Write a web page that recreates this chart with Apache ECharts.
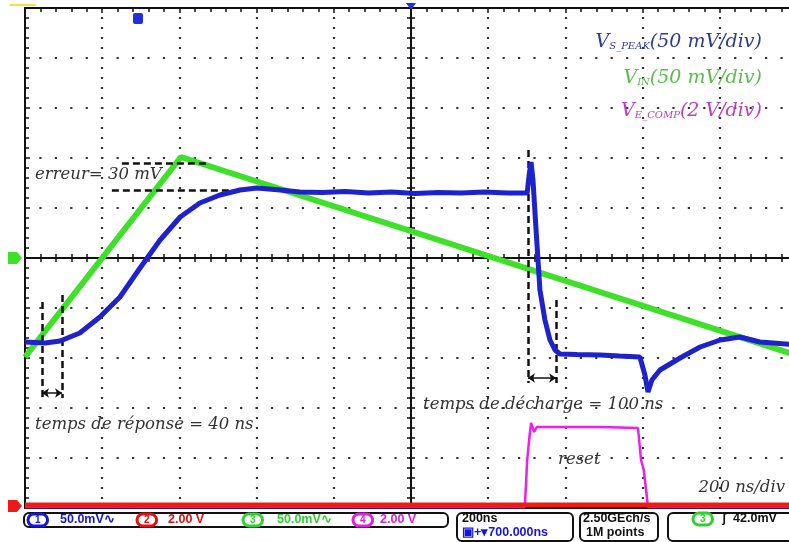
<!DOCTYPE html>
<html>
<head>
<meta charset="utf-8">
<script src="https://cdn.jsdelivr.net/npm/echarts@6/dist/echarts.min.js"></script>
<style>
html,body{margin:0;padding:0;background:#fff}
#scope{width:789px;height:542px}
</style>
</head>
<body>
<div id="scope"></div>
<script>
// temps en ns (0 = centre de l'écran, 200 ns/div), tensions en divisions
var vinT = [-1000, -596, 1000];
var vinDiv = [-1.98, 2.02, -1.95];

var vsT = [-1000, -948, -909, -858, -806, -754, -702, -650, -598, -547,
           -495, -443, -399, -339, -288, -230, -170, -110, -50, 10,
           70, 130, 190, 250, 301, 306, 311, 316, 324, 334,
           347, 360, 373, 386, 430, 490, 540, 593, 606, 614,
           624, 645, 697, 749, 801, 852, 904, 1000];
var vsDiv = [-1.68, -1.70, -1.66, -1.50, -1.18, -0.78, -0.20, 0.36, 0.82, 1.10,
             1.26, 1.36, 1.40, 1.36, 1.32, 1.31, 1.33, 1.30, 1.32, 1.29,
             1.31, 1.30, 1.32, 1.30, 1.30, 1.66, 1.92, 1.56, 0.56, -0.64,
             -1.24, -1.64, -1.84, -1.92, -1.93, -1.94, -1.96, -1.98, -2.34, -2.68,
             -2.44, -2.24, -2.00, -1.78, -1.64, -1.58, -1.68, -1.74];

var ecompT = [-1000, 295, 301, 306, 311, 319, 326, 490, 588, 596, 603, 609, 614, 1000];
var ecompDiv = [-4.98, -4.98, -4.04, -3.64, -3.30, -3.48, -3.38, -3.38, -3.40, -4.04, -4.24, -4.64, -4.98, -4.98];

var ch2T = [-1000, 1000];
var ch2Div = [-4.94, -4.94];

// annotations (pointillés et flèches), en [ns, div]
var erreurLines = [[[-749, 1.90], [-526, 1.90]], [[-775, 1.36], [-456, 1.36]]];
var reponseLines = [[[-956, -0.88], [-956, -2.8]], [[-904, -0.74], [-904, -2.8]]];
var dechargeLines = [[[303, 2.16], [303, -2.5]], [[376, -0.84], [376, -2.5]]];
var arrowLines = [[[-956, -2.7], [-904, -2.7]], [[303, -2.4], [376, -2.4]]];

var BLUE = '#1e22cc', GREEN = '#3fe02a', MAG = '#f01cf0', RED = '#ee1a1a';

function pairs(xs, ys) {
    return xs.map(function (x, i) { return [x, ys[i]]; });
}
function segs(list) {
    return list.map(function (p) { return [{coord: p[0]}, {coord: p[1]}]; });
}

var tickStyle = {color: '#111', width: 1.5};

function borderX(pos, split) {
    return {
        gridIndex: 0, type: 'value', position: pos, min: -1000, max: 1000, interval: 200,
        axisLine: {show: true, onZero: false, lineStyle: {color: '#111', width: 2}},
        axisTick: {show: true, inside: true, length: 5, lineStyle: tickStyle},
        minorTick: {show: true, splitNumber: 5, length: 4, lineStyle: tickStyle},
        axisLabel: {show: false},
        splitLine: {show: split, showMinLine: false, showMaxLine: false,
            lineStyle: {color: '#333', width: 2.2, type: [2.2, 7.8], dashOffset: 1.1}}
    };
}
function centerX(pos) {
    return {
        gridIndex: 1, type: 'value', position: pos, min: -1000, max: 1000, interval: 200,
        axisLine: {show: true, onZero: true, lineStyle: {color: '#111', width: 2}},
        axisTick: {show: true, length: 4, lineStyle: tickStyle},
        minorTick: {show: true, splitNumber: 5, length: 4, lineStyle: tickStyle},
        axisLabel: {show: false}, splitLine: {show: false}
    };
}
function centerY(pos) {
    return {
        gridIndex: 1, type: 'value', position: pos, min: -5, max: 5, interval: 1,
        axisLine: {show: true, onZero: true, lineStyle: {color: '#111', width: 2}},
        axisTick: {show: true, length: 4, lineStyle: tickStyle},
        minorTick: {show: true, splitNumber: 5, length: 4, lineStyle: tickStyle},
        axisLabel: {show: false}, splitLine: {show: false}
    };
}

function pill(x, y, num, col) {
    return {type: 'text', z: 100, style: {text: num, x: x, y: y, font: 'bold 10px "Liberation Sans"',
        fill: col, borderColor: col, borderWidth: 3, borderRadius: 7, padding: [1, 7],
        verticalAlign: 'middle'}};
}
function stat(x, y, txt, col) {
    return {type: 'text', z: 100, style: {text: txt, x: x, y: y, font: 'bold 12.5px "Liberation Sans"',
        fill: col, verticalAlign: 'middle'}};
}
function note(x, y, txt, align) {
    return {type: 'text', z: 100, style: {text: txt, x: x, y: y, font: 'italic 16.5px "DejaVu Serif"',
        fill: '#333', verticalAlign: 'middle', align: align || 'left'}};
}
function legendText(y, main, sub, unit, col) {
    var base = {fontFamily: 'DejaVu Serif', fontStyle: 'italic', fill: col, verticalAlign: 'bottom'};
    return {type: 'text', z: 100, style: {
        text: '{v|' + main + '}{s|' + sub + '}{v|' + unit + '}',
        x: 762, y: y, align: 'right', verticalAlign: 'middle',
        rich: {
            v: Object.assign({fontSize: 19, lineHeight: 23}, base),
            s: Object.assign({fontSize: 10, lineHeight: 8}, base)
        }}};
}
function box(x, y, w, h) {
    return {type: 'rect', z: 90, shape: {x: x, y: y, width: w, height: h, r: 5},
        style: {fill: 'none', stroke: '#111', lineWidth: 2}};
}

var chart = echarts.init(document.getElementById('scope'));

// la grille déborde de 8 px à droite (écran recadré)
var gridBox = {left: 25, top: 8, width: 772, height: 500, outerBoundsMode: 'none', containLabel: false};

var option = {
    animation: false,
    backgroundColor: '#fff',
    grid: [Object.assign({}, gridBox), Object.assign({}, gridBox)],
    xAxis: [borderX('bottom', true), borderX('top', false), centerX('bottom'), centerX('top')],
    yAxis: [
        {
            gridIndex: 0, type: 'value', position: 'left', min: -5, max: 5, interval: 1,
            axisLine: {show: true, onZero: false, lineStyle: {color: '#111', width: 2}},
            axisTick: {show: true, inside: true, length: 5, lineStyle: tickStyle},
            minorTick: {show: true, splitNumber: 5, length: 4, lineStyle: tickStyle},
            axisLabel: {show: false},
            splitLine: {show: true, showMinLine: false, showMaxLine: false,
                lineStyle: {color: '#333', width: 2.2, type: [2.2, 13.24], dashOffset: 1.1}}
        },
        centerY('left'), centerY('right')
    ],
    series: [
        {
            name: 'V_IN', type: 'line', xAxisIndex: 0, yAxisIndex: 0, z: 3,
            data: pairs(vinT, vinDiv), showSymbol: false, silent: true,
            lineStyle: {color: GREEN, width: 6},
            markLine: {
                silent: true, symbol: ['arrow', 'arrow'], symbolSize: 7,
                label: {show: false},
                lineStyle: {color: '#111', width: 1.5, type: 'solid'},
                data: segs(arrowLines)
            }
        },
        {
            name: 'V_E_COMP', type: 'line', xAxisIndex: 0, yAxisIndex: 0, z: 3,
            data: pairs(ecompT, ecompDiv), showSymbol: false, silent: true,
            lineStyle: {color: MAG, width: 2.5}
        },
        {
            name: 'CH2', type: 'line', xAxisIndex: 0, yAxisIndex: 0, z: 4,
            data: pairs(ch2T, ch2Div), showSymbol: false, silent: true,
            lineStyle: {color: RED, width: 5}
        },
        {
            name: 'V_S_PEAK', type: 'line', xAxisIndex: 0, yAxisIndex: 0, z: 5,
            data: pairs(vsT, vsDiv), showSymbol: false, silent: true,
            lineStyle: {color: BLUE, width: 5},
            markLine: {
                silent: true, symbol: 'none',
                label: {show: false},
                lineStyle: {color: '#111', width: 2.5, type: [7, 4]},
                data: segs(erreurLines).concat(segs(reponseLines), segs(dechargeLines))
            }
        }
    ],
    graphic: [
        // repères de voies
        {type: 'line', z: 100, shape: {x1: 10, y1: 5, x2: 36, y2: 5}, style: {stroke: '#f0e040', lineWidth: 2}},
        {type: 'polygon', z: 100, shape: {points: [[8, 252], [17, 252], [22, 258], [17, 264], [8, 264]]}, style: {fill: GREEN}},
        {type: 'polygon', z: 100, shape: {points: [[8, 500], [17, 500], [22, 506], [17, 512], [8, 512]]}, style: {fill: RED}},
        {type: 'rect', z: 100, shape: {x: 133, y: 13, width: 10, height: 11, r: 2}, style: {fill: '#2030e0'}},
        {type: 'polygon', z: 100, shape: {points: [[406, 3], [416, 3], [411, 10]]}, style: {fill: '#2030e0'}},

        // légende
        legendText(40, 'V', 'S_PEAK', '(50 mV/div)', '#2c3a9c'),
        legendText(76, 'V', 'IN', '(50 mV/div)', '#58c048'),
        legendText(109, 'V', 'E_COMP', '(2 V/div)', '#c03cc0'),

        // textes
        note(35, 175, 'erreur= 30 mV'),
        note(35, 425, 'temps de réponse = 40 ns'),
        note(423, 405, 'temps de.décharge = 100 ns'),
        note(558, 460, 'reset'),
        note(785, 488, '200 ns/div', 'right'),

        // barre d'état
        box(24, 513, 424, 14),
        pill(28, 520, '1', '#1515e0'), stat(60, 520, '50.0mV∿', '#1515e0'),
        pill(137, 520, '2', '#e01010'), stat(168, 520, '2.00 V', '#e01010'),
        pill(243, 520, '3', '#30d030'), stat(277, 520, '50.0mV∿', '#30d030'),
        pill(353, 520, '4', '#e020e0'), stat(380, 520, '2.00 V', '#e020e0'),
        box(457, 513, 116, 28),
        stat(462, 519, '200ns', '#111'), stat(462, 533, '▣+▾700.000ns', '#1515e0'),
        box(580, 513, 78, 28),
        stat(583, 519, '2.50GEch/s', '#111'), stat(586, 533, '1M points', '#111'),
        box(668, 513, 140, 28),
        pill(693, 519, '3', '#30d030'), stat(722, 519, 'ʃ  42.0mV', '#111')
    ]
};

chart.setOption(option);
</script>
</body>
</html>
